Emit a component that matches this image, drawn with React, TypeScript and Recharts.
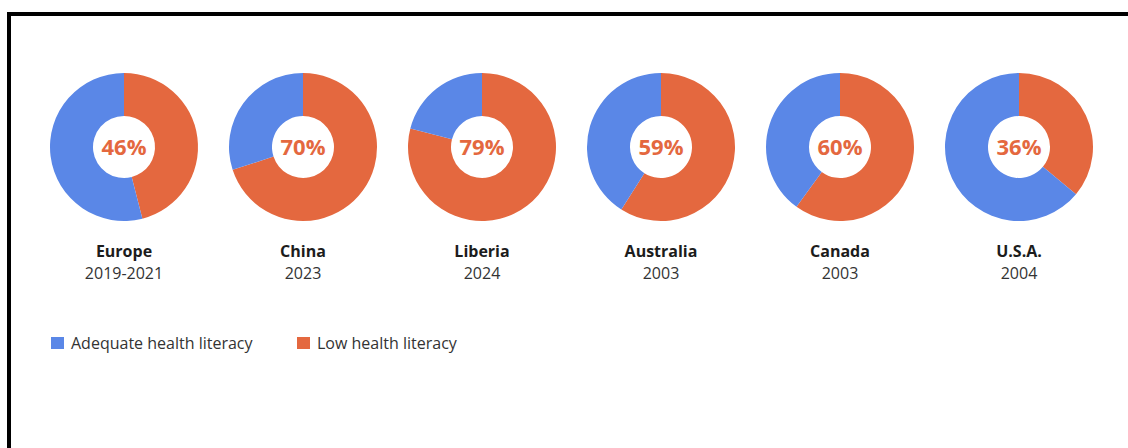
import { Cell, Label, Pie, PieChart } from 'recharts'

const regions = ['Europe', 'China', 'Liberia', 'Australia', 'Canada', 'U.S.A.']
const years = ['2019-2021', '2023', '2024', '2003', '2003', '2004']
const lowLiteracy = [46, 70, 79, 59, 60, 36]
const adequateLiteracy = [54, 30, 21, 41, 40, 64]
const legendLabels = ['Adequate health literacy', 'Low health literacy']

const BLUE = '#5a87e7'
const ORANGE = '#e4683f'
const FONT = '"Open Sans", "Noto Sans", sans-serif'

function Donut({ index }: { index: number }) {
  const data = [
    { name: legendLabels[1], value: lowLiteracy[index] },
    { name: legendLabels[0], value: adequateLiteracy[index] },
  ]
  return (
    <PieChart width={170} height={170} margin={{ top: 0, right: 0, bottom: 0, left: 0 }}>
      <Pie
        data={data}
        dataKey="value"
        cx="50%"
        cy="50%"
        innerRadius={31}
        outerRadius={74}
        startAngle={90}
        endAngle={-270}
        stroke="none"
        isAnimationActive={false}
      >
        <Cell fill={ORANGE} />
        <Cell fill={BLUE} />
        <Label
          value={`${lowLiteracy[index]}%`}
          position="center"
          fill={ORANGE}
          fontSize={22}
          fontWeight={700}
          fontFamily={FONT}
        />
      </Pie>
    </PieChart>
  )
}

export default function App() {
  return (
    <div
      style={{
        position: 'absolute',
        left: 0,
        top: 0,
        width: 1128,
        height: 448,
        background: '#fff',
        overflow: 'hidden',
        fontFamily: FONT,
      }}
    >
      <div
        style={{
          position: 'absolute',
          left: 7,
          top: 12,
          width: 1160,
          height: 480,
          border: '4px solid #000',
        }}
      />
      {regions.map((region, i) => {
        const cx = 124 + i * 179
        return (
          <div key={region}>
            <div style={{ position: 'absolute', left: cx - 85, top: 62 }}>
              <Donut index={i} />
            </div>
            <div
              style={{
                position: 'absolute',
                left: cx - 80,
                width: 160,
                top: 240,
                textAlign: 'center',
                fontSize: 16,
                lineHeight: '22px',
              }}
            >
              <div style={{ fontWeight: 700, color: '#1c1c1c' }}>{region}</div>
              <div style={{ color: '#333' }}>{years[i]}</div>
            </div>
          </div>
        )
      })}
      {legendLabels.map((label, i) => (
        <div
          key={label}
          style={{
            position: 'absolute',
            left: i === 0 ? 51 : 297,
            top: 332,
            display: 'flex',
            alignItems: 'center',
            fontSize: 16,
            lineHeight: '22px',
            color: '#333',
          }}
        >
          <span
            style={{
              display: 'inline-block',
              width: 13,
              height: 12,
              background: i === 0 ? BLUE : ORANGE,
              marginRight: 7,
            }}
          />
          {label}
        </div>
      ))}
    </div>
  )
}
